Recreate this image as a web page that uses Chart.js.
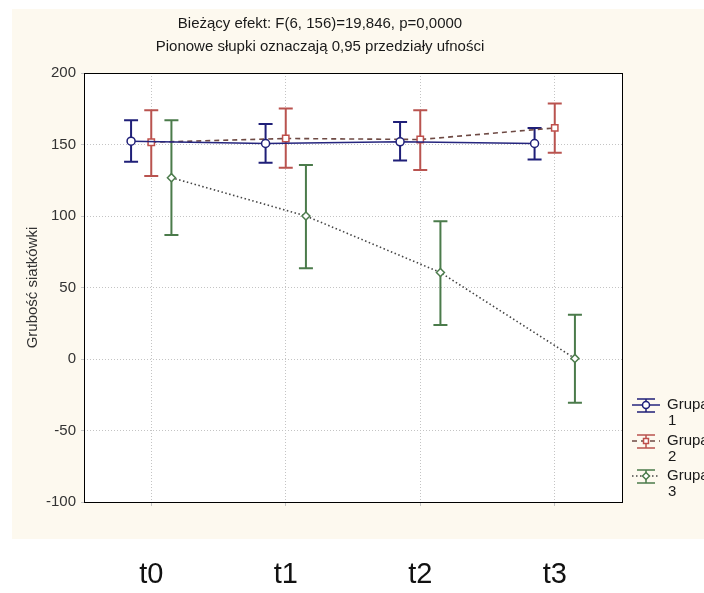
<!DOCTYPE html>
<html>
<head>
<meta charset="utf-8">
<script src="https://cdn.jsdelivr.net/npm/chart.js@4"></script>
<style>
  html, body { margin: 0; padding: 0; background: #ffffff; }
  #wrap { width: 704px; height: 593px; }
</style>
</head>
<body>
<div id="wrap"><canvas id="c" width="704" height="593"></canvas></div>
<script>
// Time points and group labels
const categories = ['t0', 't1', 't2', 't3'];
const groupLabels = ['Grupa 1', 'Grupa 2', 'Grupa 3'];

// Group means with 0.95 confidence limits
const group1Mean = [152.3, 150.7, 151.9, 150.7];
const group1Low  = [137.9, 137.2, 138.8, 139.5];
const group1High = [167.0, 164.4, 165.8, 161.6];

const group2Mean = [151.6, 154.2, 153.5, 161.6];
const group2Low  = [127.9, 133.7, 132.1, 144.2];
const group2High = [173.9, 175.1, 173.9, 178.6];

const group3Mean = [126.8, 100.0, 60.5, 0.4];
const group3Low  = [86.7, 63.5, 23.7, -30.6];
const group3High = [167.0, 135.6, 96.3, 30.9];

const yTicks = [-100, -50, 0, 50, 100, 150, 200];

const titleLines = [
  'Bieżący efekt: F(6, 156)=19,846, p=0,0000',
  'Pionowe słupki oznaczają 0,95 przedziały ufności'
];
const yTitle = 'Grubość siatkówki';

const FONT = '"Liberation Sans", Arial, sans-serif';

// horizontal shift of each group around its time point
const shifts = [-0.15, 0, 0.15];

const styles = [
  { line: '#25257e', bar: '#1f1f78', marker: '#1f1f78', dash: [], style: 'circle', radius: 4 },
  { line: '#6e4a44', bar: '#b9534f', marker: '#bf4f4b', dash: [5, 4], style: 'rect', radius: 4.5 },
  { line: '#454545', bar: '#4b7b4b', marker: '#4b7b4b', dash: [1.5, 2.5], style: 'rectRot', radius: 4 }
];

const means = [group1Mean, group2Mean, group3Mean];
const lows = [group1Low, group2Low, group3Low];
const highs = [group1High, group2High, group3High];

const datasets = means.map((m, g) => ({
  label: groupLabels[g],
  data: m.map((v, i) => ({ x: i + shifts[g], y: v })),
  borderColor: styles[g].line,
  borderWidth: 1.6,
  borderDash: styles[g].dash,
  pointStyle: styles[g].style,
  pointRadius: styles[g].radius,
  pointBackgroundColor: '#ffffff',
  pointBorderColor: styles[g].marker,
  pointBorderWidth: 1.5,
  tension: 0,
  fill: false,
  lows: lows[g],
  highs: highs[g],
  barColor: styles[g].bar
}));

// Page background, beige panel and white plot area
const panelPlugin = {
  id: 'panel',
  beforeDraw(chart) {
    const ctx = chart.ctx;
    const a = chart.chartArea;
    ctx.save();
    ctx.fillStyle = '#ffffff';
    ctx.fillRect(0, 0, chart.width, chart.height);
    ctx.fillStyle = '#fdf9ef';
    ctx.fillRect(12, 9, chart.width - 12, 530);
    ctx.fillStyle = '#ffffff';
    ctx.fillRect(a.left, a.top, a.right - a.left, a.bottom - a.top);
    ctx.restore();
  },
  afterDraw(chart) {
    const ctx = chart.ctx;
    const a = chart.chartArea;
    ctx.save();
    ctx.strokeStyle = '#000000';
    ctx.lineWidth = 1;
    ctx.strokeRect(Math.round(a.left) + 0.5, Math.round(a.top) + 0.5,
      Math.round(a.right - a.left), Math.round(a.bottom - a.top));
    // two-line title
    ctx.fillStyle = '#1a1a1a';
    ctx.font = '15px ' + FONT;
    ctx.textAlign = 'center';
    ctx.textBaseline = 'middle';
    ctx.fillText(titleLines[0], 320, 23.5);
    ctx.fillText(titleLines[1], 320, 46.5);
    ctx.restore();
  }
};

// Vertical confidence bars with caps, drawn through the scales
const errorBarPlugin = {
  id: 'errorBars',
  beforeDatasetsDraw(chart) {
    const ctx = chart.ctx;
    const xs = chart.scales.x, ys = chart.scales.y;
    ctx.save();
    chart.data.datasets.forEach(ds => {
      ctx.strokeStyle = ds.barColor;
      ctx.lineWidth = 2;
      ds.data.forEach((p, i) => {
        const x = xs.getPixelForValue(p.x);
        const yl = ys.getPixelForValue(ds.lows[i]);
        const yh = ys.getPixelForValue(ds.highs[i]);
        const cap = 7;
        ctx.beginPath();
        ctx.moveTo(x, yl); ctx.lineTo(x, yh);
        ctx.moveTo(x - cap, yl); ctx.lineTo(x + cap, yl);
        ctx.moveTo(x - cap, yh); ctx.lineTo(x + cap, yh);
        ctx.stroke();
      });
    });
    ctx.restore();
  }
};

// Legend on the right: bar symbol with marker, label wrapped on two lines
const legendPlugin = {
  id: 'sideLegend',
  afterDraw(chart) {
    const ctx = chart.ctx;
    const x0 = 632, cx = 646, tx = 667;
    const rowY = [405, 441, 476];
    ctx.save();
    chart.data.datasets.forEach((ds, g) => {
      const y = rowY[g];
      // bar caps and stem
      ctx.strokeStyle = ds.barColor;
      ctx.lineWidth = 1.5;
      ctx.setLineDash([]);
      ctx.beginPath();
      ctx.moveTo(cx - 9, y - 6); ctx.lineTo(cx + 9, y - 6);
      ctx.moveTo(cx - 9, y + 7); ctx.lineTo(cx + 9, y + 7);
      ctx.moveTo(cx, y - 6); ctx.lineTo(cx, y + 7);
      ctx.stroke();
      // line sample
      ctx.strokeStyle = ds.borderColor;
      ctx.lineWidth = 1.5;
      ctx.setLineDash(ds.borderDash);
      ctx.beginPath();
      ctx.moveTo(x0, y); ctx.lineTo(x0 + 28, y);
      ctx.stroke();
      ctx.setLineDash([]);
      // marker
      ctx.fillStyle = '#ffffff';
      ctx.strokeStyle = ds.pointBorderColor;
      Chart.helpers.drawPoint(ctx, {
        pointStyle: ds.pointStyle, radius: 3.5, borderWidth: 1.5
      }, cx, y);
      // text
      const parts = ds.label.split(' ');
      ctx.fillStyle = '#1a1a1a';
      ctx.font = '15px ' + FONT;
      ctx.textAlign = 'left';
      ctx.textBaseline = 'middle';
      ctx.fillText(parts[0], tx, y);
      ctx.fillText(parts[1], tx + 1, y + 16);
    });
    ctx.restore();
  }
};

new Chart(document.getElementById('c'), {
  type: 'line',
  data: { datasets },
  options: {
    responsive: false,
    animation: false,
    layout: { padding: { left: 0, right: 82, top: 73, bottom: 0 } },
    plugins: {
      legend: { display: false },
      title: { display: false },
      tooltip: { enabled: false }
    },
    scales: {
      x: {
        type: 'linear',
        min: -0.5,
        max: 3.5,
        afterBuildTicks(scale) {
          scale.ticks = categories.map((c, i) => ({ value: i }));
        },
        afterFit(scale) { scale.height = 91; },
        grid: {
          color: '#c4c4c4',
          lineWidth: 1,
          tickLength: 4,
          drawOnChartArea: true
        },
        border: { display: false, dash: [1, 2] },
        ticks: {
          autoSkip: false,
          maxRotation: 0,
          padding: 52,
          color: '#111111',
          font: { family: FONT, size: 29 },
          callback: (v) => categories[v] ?? ''
        }
      },
      y: {
        min: -100,
        max: 200,
        afterBuildTicks(scale) {
          scale.ticks = yTicks.map(v => ({ value: v }));
        },
        afterFit(scale) { scale.width = 84; },
        grid: {
          color: '#c4c4c4',
          lineWidth: 1,
          tickLength: 3
        },
        border: { display: false, dash: [1, 2] },
        ticks: {
          padding: 5,
          color: '#333333',
          font: { family: FONT, size: 15 }
        },
        title: {
          display: true,
          text: yTitle,
          color: '#333333',
          font: { family: FONT, size: 15 },
          padding: { top: 24, bottom: 0 }
        }
      }
    }
  },
  plugins: [panelPlugin, errorBarPlugin, legendPlugin]
});
</script>
</body>
</html>
